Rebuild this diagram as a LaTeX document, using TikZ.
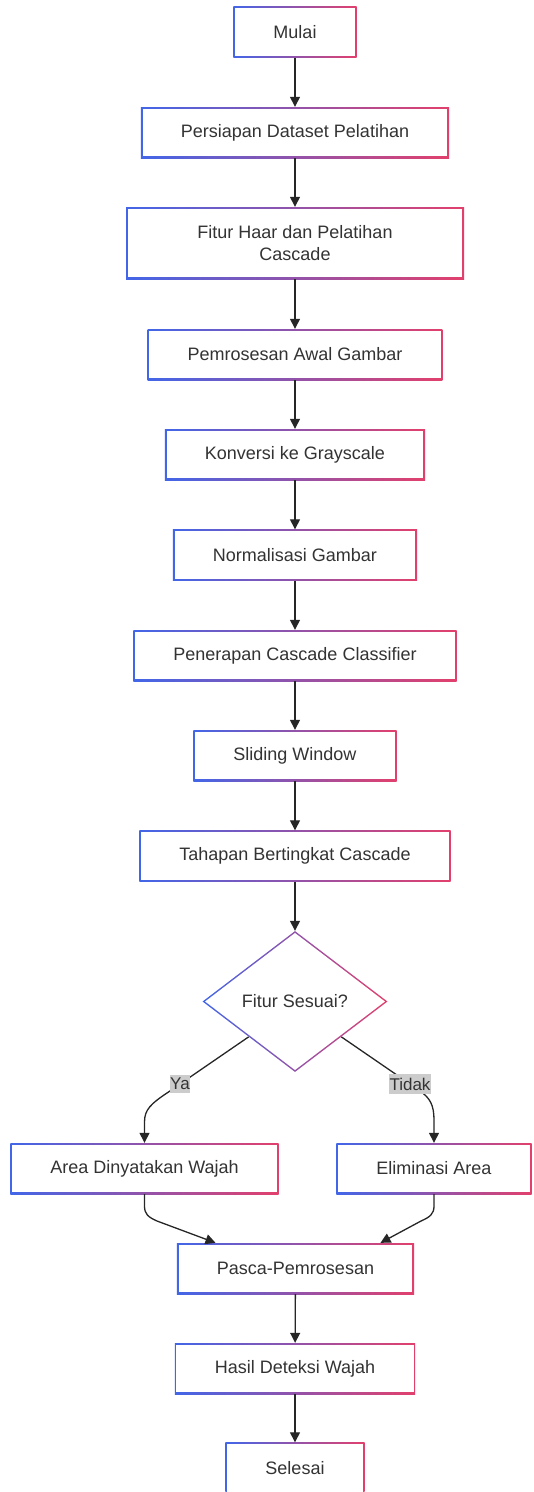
\documentclass[tikz,border=0pt]{standalone}
\usepackage{fontspec}
\setmainfont{Liberation Sans}
\usetikzlibrary{shapes.geometric,arrows.meta,calc}
\definecolor{edgeblue}{RGB}{66,102,232}
\definecolor{edgepink}{RGB}{226,64,108}
\definecolor{txtgray}{RGB}{51,51,51}
\definecolor{lblgray}{RGB}{204,204,204}
\tikzset{
  gradedge/.style={path picture={
    \shade[left color=edgeblue,right color=edgepink] (path picture bounding box.south west) rectangle (path picture bounding box.north east);
    \fill[white] ([shift={(1.6pt,1.6pt)}]path picture bounding box.south west) rectangle ([shift={(-1.6pt,-1.6pt)}]path picture bounding box.north east);}},
  stepbox/.style={gradedge, rectangle, minimum height=51pt, inner xsep=40pt, text=txtgray, font=\fontsize{18}{22}\selectfont},
  decision/.style={shape=diamond, minimum width=185pt, minimum height=141pt, inner sep=0pt, text=txtgray, font=\fontsize{18}{22}\selectfont,
    path picture={
    \shade[left color=edgeblue,right color=edgepink] (path picture bounding box.south west) rectangle (path picture bounding box.north east);
    \fill[white] ([yshift=-1.9pt]path picture bounding box.north) -- ([xshift=-2.5pt]path picture bounding box.east) -- ([yshift=1.9pt]path picture bounding box.south) -- ([xshift=2.5pt]path picture bounding box.west) -- cycle;}},
  lbl/.style={fill=lblgray, text=txtgray, inner xsep=0.5pt, inner ysep=3.5pt, font=\fontsize{17}{20}\selectfont},
  flow/.style={draw=black!85, line width=1.3pt, -{Triangle[length=10pt,width=10pt]}}
}

\begin{document}
\begin{tikzpicture}[x=1pt,y=1pt]
  \useasboundingbox (0,0) rectangle (534,-1492);
  % main column
  \node[stepbox] (mulai) at (295,-32) {Mulai};
  \node[stepbox] (persiapan) at (295,-132.5) {Persiapan Dataset Pelatihan};
  \node[stepbox, minimum width=338pt, minimum height=72pt, align=center] (fitur) at (295,-243) {Fitur Haar dan Pelatihan\\Cascade};
  \node[stepbox] (pemrosesan) at (295,-354.5) {Pemrosesan Awal Gambar};
  \node[stepbox] (konversi) at (295,-454.5) {Konversi ke Grayscale};
  \node[stepbox] (normalisasi) at (295,-555) {Normalisasi Gambar};
  \node[stepbox] (penerapan) at (295,-655.5) {Penerapan Cascade Classifier};
  \node[stepbox] (sliding) at (295,-755.5) {Sliding Window};
  \node[stepbox] (tahapan) at (295,-856) {Tahapan Bertingkat Cascade};
  \node[decision] (dec) at (295,-1001.5) {Fitur Sesuai?};
  \node[stepbox] (area) at (144.5,-1168.5) {Area Dinyatakan Wajah};
  \node[stepbox] (elim) at (434,-1168.5) {Eliminasi Area};
  \node[stepbox] (pasca) at (295.5,-1268.5) {Pasca-Pemrosesan};
  \node[stepbox] (hasil) at (295,-1368.5) {Hasil Deteksi Wajah};
  \node[stepbox] (selesai) at (295,-1468) {Selesai};

  \draw[flow] (mulai) -- (persiapan);
  \draw[flow] (persiapan) -- (fitur);
  \draw[flow] (fitur) -- (pemrosesan);
  \draw[flow] (pemrosesan) -- (konversi);
  \draw[flow] (konversi) -- (normalisasi);
  \draw[flow] (normalisasi) -- (penerapan);
  \draw[flow] (penerapan) -- (sliding);
  \draw[flow] (sliding) -- (tahapan);
  \draw[flow] (tahapan) -- (dec);

  % branches
  \draw[flow] ($(dec.west)!.5!(dec.south)$) -- (180,-1084) node[lbl] {Ya} -- (170,-1091)
    .. controls (150,-1104) and (144.5,-1110) .. (144.5,-1122) -- (area.north);
  \draw[flow] ($(dec.east)!.5!(dec.south)$) -- (410,-1084) node[lbl] {Tidak} -- (420,-1091)
    .. controls (430,-1098) and (434,-1105) .. (434,-1120) -- (elim.north);

  % merge
  \draw[flow] (area.south) -- (144.5,-1206) .. controls (144.5,-1214) and (148,-1217) .. (157,-1221)
    -- ([xshift=-80pt]pasca.north);
  \draw[flow] (elim.south) -- (434,-1206) .. controls (434,-1214) and (430,-1217) .. (421,-1221)
    -- ([xshift=85pt]pasca.north);
  \draw[flow] (pasca) -- (hasil);
  \draw[flow] (hasil) -- (selesai);
\end{tikzpicture}
\end{document}
